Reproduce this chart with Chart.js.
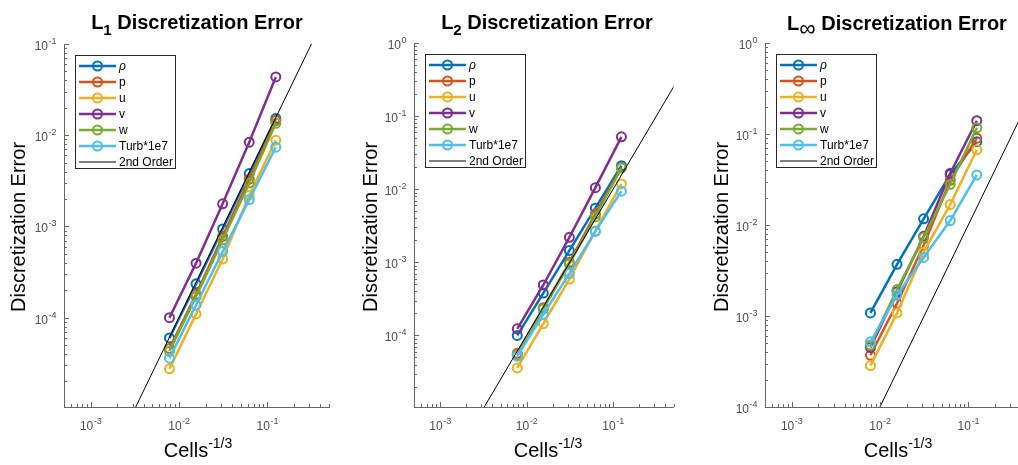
<!DOCTYPE html>
<html>
<head>
<meta charset="utf-8">
<script src="https://cdn.jsdelivr.net/npm/chart.js@4"></script>
<style>
  html, body { margin: 0; padding: 0; background: #fff; }
  body { width: 1018px; height: 465px; overflow: hidden; position: relative;
         font-family: "Liberation Sans", Arial, sans-serif; color: #000; }
  canvas { position: absolute; top: 0; }
  .title { position: absolute; top: 12px; width: 300px; text-align: center;
           font-weight: bold; font-size: 20px; line-height: 20px; white-space: nowrap; }
  .ylab { position: absolute; font-size: 20px; line-height: 20px; white-space: nowrap;
          transform: translate(-50%, -50%) rotate(-90deg); }
  .xlab { position: absolute; top: 440px; width: 200px; text-align: center;
          font-size: 20px; line-height: 20px; white-space: nowrap; }
  .sub { position: relative; top: 6px; font-size: 15px; }
  .sup { position: relative; top: -9px; font-size: 14px; }
</style>
</head>
<body>
<canvas id="c1" width="340" height="465" style="left:0px"></canvas>
<canvas id="c2" width="340" height="465" style="left:340px"></canvas>
<canvas id="c3" width="360" height="465" style="left:680px"></canvas>

<div class="title" style="left:47px">L<span class="sub">1</span> Discretization Error</div>
<div class="title" style="left:397px">L<span class="sub">2</span> Discretization Error</div>
<div class="title" style="left:747px">L<span class="sub" style="font-size:23px;font-weight:normal;top:6px">&infin;</span> Discretization Error</div>

<div class="ylab" style="left:18px; top:227px">Discretization Error</div>
<div class="ylab" style="left:370px; top:227px">Discretization Error</div>
<div class="ylab" style="left:721px; top:227px">Discretization Error</div>

<div class="xlab" style="left:98px">Cells<span class="sup">-1/3</span></div>
<div class="xlab" style="left:448px">Cells<span class="sup">-1/3</span></div>
<div class="xlab" style="left:798px">Cells<span class="sup">-1/3</span></div>

<script>
// grid spacing h = Cells^(-1/3)
const cells = [0.0078125, 0.015625, 0.03125, 0.0625, 0.125];
const seriesNames = ['ρ', 'p', 'u', 'v', 'w', 'Turb*1e7'];
const seriesColors = ['#0072BD', '#D95319', '#EDB120', '#7E2F8E', '#77AC30', '#4DBEEE'];

// L1 norm
const l1Rho  = [6.0e-5, 2.35e-4, 9.4e-4, 3.8e-3, 0.0153];
const l1P    = [4.6e-5, 1.8e-4, 7.8e-4, 3.3e-3, 0.0145];
const l1U    = [2.75e-5, 1.1e-4, 4.4e-4, 2.2e-3, 8.8e-3];
const l1V    = [1.0e-4, 3.96e-4, 1.77e-3, 8.4e-3, 0.0435];
const l1W    = [4.3e-5, 1.7e-4, 7.1e-4, 3.0e-3, 0.0135];
const l1Turb = [3.6e-5, 1.38e-4, 5.3e-4, 1.97e-3, 7.4e-3];

// L2 norm
const l2Rho  = [1.0e-4, 3.8e-4, 1.45e-3, 5.5e-3, 0.021];
const l2P    = [5.7e-5, 2.4e-4, 1.0e-3, 4.6e-3, 0.0198];
const l2U    = [3.6e-5, 1.45e-4, 5.9e-4, 2.7e-3, 0.0118];
const l2V    = [1.23e-4, 4.9e-4, 2.2e-3, 0.0105, 0.052];
const l2W    = [5.4e-5, 2.3e-4, 9.5e-4, 4.2e-3, 0.0195];
const l2Turb = [5.2e-5, 1.95e-4, 7.0e-4, 2.65e-3, 9.4e-3];

// Linf norm
const liRho  = [1.08e-3, 3.7e-3, 0.0117, 0.036, 0.082];
const liP    = [3.7e-4, 1.38e-3, 6.0e-3, 0.031, 0.09];
const liU    = [2.85e-4, 1.08e-3, 5.0e-3, 0.0168, 0.067];
const liV    = [4.5e-4, 1.85e-3, 7.5e-3, 0.037, 0.14];
const liW    = [4.8e-4, 1.95e-3, 7.3e-3, 0.028, 0.117];
const liTurb = [5.2e-4, 1.7e-3, 4.4e-3, 0.0112, 0.0355];

// 2nd order reference slope (error = h^2)
const orderX = [1e-3, 1];
const orderY = [1e-6, 1];

const xTicks = [1e-3, 1e-2, 1e-1];
const yTicks1 = [1e-4, 1e-3, 1e-2, 1e-1];
const yTicks2 = [1e-4, 1e-3, 1e-2, 1e-1, 1];
const yTicks3 = [1e-4, 1e-3, 1e-2, 1e-1, 1];

const FONT = '"Liberation Sans", Arial, sans-serif';

// MATLAB style inward major/minor ticks on the log axes
const innerTicks = {
  id: 'innerTicks',
  afterDatasetsDraw(chart) {
    const { ctx, chartArea, scales } = chart;
    ctx.save();
    ctx.strokeStyle = '#666';
    ctx.lineWidth = 1;
    const sx = scales.x, sy = scales.y;
    for (let d = -5; d <= 0; d++) {
      for (let m = 1; m <= 9; m++) {
        const v = m * Math.pow(10, d);
        const len = m === 1 ? 5 : 3;
        if (v >= sx.min && v <= sx.max) {
          const px = Math.round(sx.getPixelForValue(v)) + 0.5;
          ctx.beginPath();
          ctx.moveTo(px, chartArea.bottom);
          ctx.lineTo(px, chartArea.bottom - len);
          ctx.stroke();
        }
        if (v >= sy.min && v <= sy.max) {
          const py = Math.round(sy.getPixelForValue(v)) + 0.5;
          ctx.beginPath();
          ctx.moveTo(chartArea.left, py);
          ctx.lineTo(chartArea.left + len, py);
          ctx.stroke();
        }
      }
    }
    ctx.restore();
  }
};

// tick labels written as 10 with a raised exponent, taken from the scale ticks
const powerLabels = {
  id: 'powerLabels',
  afterDraw(chart) {
    const { ctx, chartArea, scales } = chart;
    ctx.save();
    ctx.fillStyle = '#4d4d4d';
    ctx.textBaseline = 'alphabetic';
    ctx.textAlign = 'left';
    const parts = (v) => {
      const e = String(Math.round(Math.log10(v)));
      ctx.font = '12px ' + FONT;
      const w1 = ctx.measureText('10').width;
      ctx.font = '9px ' + FONT;
      const w2 = ctx.measureText(e).width;
      return { e, w1, w2 };
    };
    const draw = (x, by, p) => {
      ctx.font = '12px ' + FONT;
      ctx.fillText('10', x, by);
      ctx.font = '9px ' + FONT;
      ctx.fillText(p.e, x + p.w1 + 0.5, by - 6);
    };
    scales.x.ticks.forEach(t => {
      const p = parts(t.value);
      const px = scales.x.getPixelForValue(t.value);
      draw(px - (p.w1 + p.w2) / 2, chartArea.bottom + 23, p);
    });
    scales.y.ticks.forEach(t => {
      const p = parts(t.value);
      const py = scales.y.getPixelForValue(t.value);
      draw(chartArea.left - 8 - (p.w1 + p.w2), py + 6, p);
    });
    ctx.restore();
  }
};

// boxed legend in the upper left corner of the axes
const boxLegend = {
  id: 'boxLegend',
  afterDraw(chart) {
    const { ctx, chartArea } = chart;
    const x0 = chartArea.left + 11, y0 = chartArea.top + 11;
    ctx.save();
    ctx.fillStyle = '#fff';
    ctx.fillRect(x0, y0, 100, 113);
    ctx.strokeStyle = '#262626';
    ctx.lineWidth = 1;
    ctx.strokeRect(x0 + 0.5, y0 + 0.5, 100, 113);
    chart.data.datasets.forEach((ds, i) => {
      const y = y0 + 11 + i * 16;
      ctx.strokeStyle = ds.borderColor;
      ctx.lineWidth = ds.borderWidth;
      ctx.beginPath();
      ctx.moveTo(x0 + 4, y);
      ctx.lineTo(x0 + 41, y);
      ctx.stroke();
      if (ds.pointRadius) {
        ctx.lineWidth = ds.pointBorderWidth;
        ctx.beginPath();
        ctx.arc(x0 + 22.5, y, ds.pointRadius, 0, Math.PI * 2);
        ctx.stroke();
      }
      ctx.fillStyle = '#000';
      ctx.textBaseline = 'middle';
      ctx.font = (ds.label === 'ρ' ? 'italic ' : '') + '12px ' + FONT;
      ctx.fillText(ds.label, x0 + 44, y + 1);
    });
    ctx.restore();
  }
};

function makeChart(id, values, yMin, yMax, yTicks, pad) {
  const datasets = values.map((vals, i) => ({
    label: seriesNames[i],
    data: cells.map((x, j) => ({ x: x, y: vals[j] })),
    borderColor: seriesColors[i],
    borderWidth: 2.5,
    pointRadius: 4.5,
    pointBorderWidth: 2,
    pointBackgroundColor: 'rgba(0,0,0,0)',
    pointBorderColor: seriesColors[i],
    order: values.length - i
  }));
  datasets.push({
    label: '2nd Order',
    data: orderX.map((x, j) => ({ x: x, y: orderY[j] })),
    borderColor: '#000',
    borderWidth: 1,
    pointRadius: 0,
    order: 0
  });

  return new Chart(document.getElementById(id), {
    type: 'line',
    data: { datasets },
    plugins: [innerTicks, powerLabels, boxLegend],
    options: {
      responsive: false,
      animation: false,
      events: [],
      layout: { padding: pad },
      plugins: { legend: { display: false }, title: { display: false }, tooltip: { enabled: false } },
      scales: {
        x: {
          type: 'logarithmic',
          min: 5e-4,
          max: 0.5,
          afterBuildTicks: (s) => { s.ticks = xTicks.map(v => ({ value: v })); },
          afterFit: (s) => { s.height = 30; },
          ticks: { display: false },
          grid: { display: false, drawTicks: false },
          border: { display: true, color: '#666', width: 1 }
        },
        y: {
          type: 'logarithmic',
          min: yMin,
          max: yMax,
          afterBuildTicks: (s) => { s.ticks = yTicks.map(v => ({ value: v })); },
          afterFit: (s) => { s.width = 40; },
          ticks: { display: false },
          grid: { display: false, drawTicks: false },
          border: { display: true, color: '#666', width: 1 }
        }
      }
    }
  });
}

makeChart('c1', [l1Rho, l1P, l1U, l1V, l1W, l1Turb], 1.05e-5, 1e-1, yTicks1,
  { left: 24, right: 11, top: 44, bottom: 28 });
makeChart('c2', [l2Rho, l2P, l2U, l2V, l2W, l2Turb], 1.05e-5, 1, yTicks2,
  { left: 34, right: 1, top: 43, bottom: 28 });
makeChart('c3', [liRho, liP, liU, liV, liW, liTurb], 1e-4, 1, yTicks3,
  { left: 45, right: 10, top: 43, bottom: 28 });
</script>
</body>
</html>
